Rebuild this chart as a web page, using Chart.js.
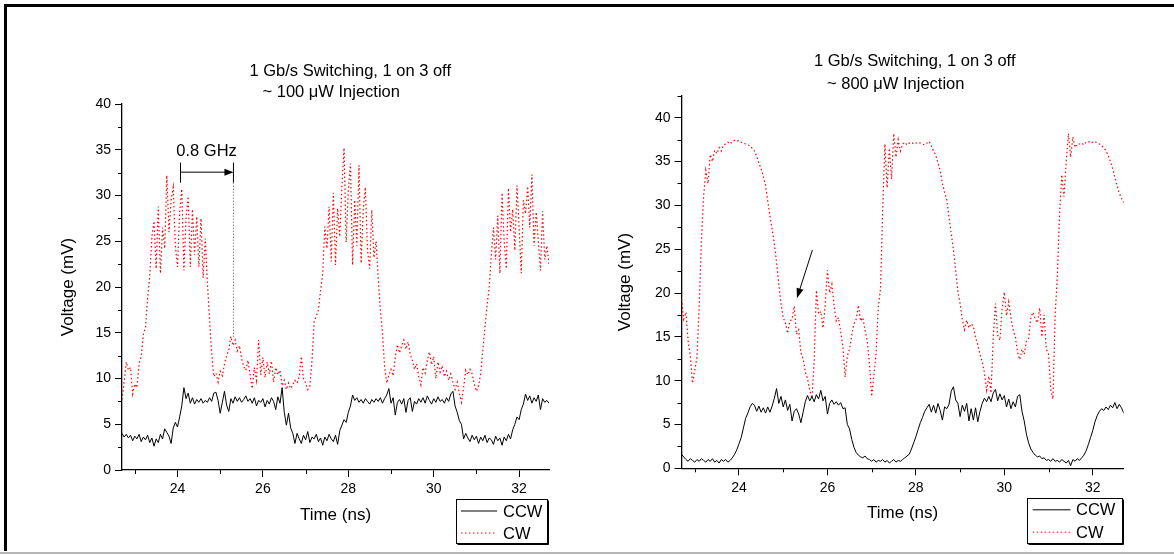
<!DOCTYPE html>
<html>
<head>
<meta charset="utf-8">
<script src="https://cdn.jsdelivr.net/npm/chart.js@4.4.1/dist/chart.umd.min.js"></script>
<style>
html,body{margin:0;padding:0;background:#fff;}
body{width:1174px;height:555px;position:relative;overflow:hidden;}
#wrapA{position:absolute;left:0;top:0;width:585px;height:555px;}
#wrapB{position:absolute;left:585px;top:0;width:589px;height:555px;}
.ftop{position:absolute;left:4px;top:4px;width:1170px;height:3px;background:#000;}
.fleft{position:absolute;left:4px;top:4px;width:3px;height:547px;background:#000;}
.fbot{position:absolute;left:0;top:552px;width:1174px;height:2px;background:#b4b4b4;}
</style>
</head>
<body>
<div id="wrapA"><canvas id="chartA"></canvas></div>
<div id="wrapB"><canvas id="chartB"></canvas></div>
<div class="ftop"></div><div class="fleft"></div><div class="fbot"></div>
<script>
// ---------- data ----------
const time = [
22.7,22.75,22.8,22.85,22.9,22.95,23,23.05,23.1,23.15,
23.2,23.25,23.3,23.35,23.4,23.45,23.5,23.55,23.6,23.65,
23.7,23.75,23.8,23.85,23.9,23.95,24,24.05,24.1,24.15,
24.2,24.25,24.3,24.35,24.4,24.45,24.5,24.55,24.6,24.65,
24.7,24.75,24.8,24.85,24.9,24.95,25,25.05,25.1,25.15,
25.2,25.25,25.3,25.35,25.4,25.45,25.5,25.55,25.6,25.65,
25.7,25.75,25.8,25.85,25.9,25.95,26,26.05,26.1,26.15,
26.2,26.25,26.3,26.35,26.4,26.45,26.5,26.55,26.6,26.65,
26.7,26.75,26.8,26.85,26.9,26.95,27,27.05,27.1,27.15,
27.2,27.25,27.3,27.35,27.4,27.45,27.5,27.55,27.6,27.65,
27.7,27.75,27.8,27.85,27.9,27.95,28,28.05,28.1,28.15,
28.2,28.25,28.3,28.35,28.4,28.45,28.5,28.55,28.6,28.65,
28.7,28.75,28.8,28.85,28.9,28.95,29,29.05,29.1,29.15,
29.2,29.25,29.3,29.35,29.4,29.45,29.5,29.55,29.6,29.65,
29.7,29.75,29.8,29.85,29.9,29.95,30,30.05,30.1,30.15,
30.2,30.25,30.3,30.35,30.4,30.45,30.5,30.55,30.6,30.65,
30.7,30.75,30.8,30.85,30.9,30.95,31,31.05,31.1,31.15,
31.2,31.25,31.3,31.35,31.4,31.45,31.5,31.55,31.6,31.65,
31.7,31.75,31.8,31.85,31.9,31.95,32,32.05,32.1,32.15,
32.2,32.25,32.3,32.35,32.4,32.45,32.5,32.55,32.6,32.65,
32.7];

// left panel (~100 uW injection)
const ccwLow = [
4.0,3.6,3.9,3.5,3.8,3.2,3.7,3.4,3.9,3.1,
3.6,3.3,3.8,3.0,3.5,2.6,3.4,3.0,3.9,3.4,
4.5,4.1,3.7,2.9,4.6,5.2,4.7,5.8,7.0,9.0,
7.8,8.4,7.3,7.9,7.2,7.7,7.4,7.8,7.3,7.6,
7.4,7.9,7.5,8.4,8.5,7.6,6.2,7.4,8.6,7.1,
6.4,7.8,7.3,8.0,7.5,7.9,7.4,7.7,8.1,7.5,
7.8,7.3,7.9,7.0,7.6,7.4,7.8,6.9,7.6,7.2,
7.9,7.5,6.6,8.0,7.3,9.0,6.3,4.9,6.2,4.6,
4.0,2.9,4.0,3.4,2.9,3.8,3.3,4.2,3.0,3.6,
3.4,3.9,3.1,3.5,2.7,3.6,3.2,3.9,3.4,3.1,
3.8,2.8,4.3,4.9,5.5,5.2,6.3,7.0,8.2,7.6,
7.9,7.4,7.7,7.3,7.8,7.5,7.2,7.7,7.4,7.8,
7.5,7.9,7.3,7.8,8.2,8.9,7.3,7.9,6.0,7.4,
7.7,7.2,7.8,6.3,7.6,7.9,6.4,7.5,7.2,7.8,
7.4,7.9,7.3,8.1,7.6,7.2,7.8,7.4,8.0,7.5,
7.7,7.3,7.9,7.5,8.3,8.6,7.0,6.3,5.4,5.0,
3.4,4.0,3.5,3.1,3.8,3.3,3.7,2.9,3.6,3.2,
3.8,3.0,3.5,3.3,2.8,3.7,3.2,3.5,2.7,3.6,
3.2,3.9,3.4,4.4,5.0,5.8,5.5,6.6,7.2,8.3,
7.6,8.1,7.3,7.9,7.5,8.2,6.6,7.8,7.4,7.6,
7.3];
const cwLow = [
7.7,9.6,11.8,10.9,11.2,8.3,9.4,9.0,11.6,12.4,
14.8,15.6,18.8,21.2,25.5,27.2,22.0,28.8,21.5,26.5,
24.2,32.2,26.0,29.5,30.9,24.5,22.2,28.2,30.7,21.8,
27.5,29.9,22.2,28.5,23.5,27.7,22.2,27.5,21.0,25.3,
20.5,16.5,12.8,10.2,10.6,9.6,10.8,10.3,11.6,12.5,
13.1,14.6,13.6,14.2,13.0,13.6,12.2,11.3,10.9,12.0,
10.4,8.9,11.2,9.8,14.2,10.4,12.3,10.1,11.8,10.5,
11.9,9.6,11.2,10.4,10.9,9.2,9.8,8.8,9.5,8.9,
9.3,9.8,9.5,10.2,12.4,10.0,9.5,8.8,9.2,12.0,
16.2,16.8,17.5,19.6,21.5,26.6,24.2,28.8,22.8,30.3,
22.4,28.6,25.5,31.0,35.2,24.9,30.6,33.5,22.4,29.5,
24.5,33.3,22.6,28.5,30.9,24.0,22.0,28.4,23.2,25.0,
21.0,17.5,15.0,11.3,9.5,10.4,11.0,10.3,12.3,13.7,
12.8,13.6,14.2,13.2,14.0,12.6,12.0,11.0,11.6,10.2,
9.3,11.2,10.6,12.0,12.9,11.5,12.4,10.0,11.8,10.7,
11.4,10.2,10.8,9.8,10.5,9.6,8.8,9.6,8.4,7.4,
9.0,10.9,10.4,11.0,10.5,9.4,8.6,9.2,10.5,13.1,
15.6,18.0,20.0,23.5,26.5,23.0,27.8,21.5,30.3,25.0,
22.0,30.8,26.0,28.5,24.0,31.1,26.5,21.5,29.5,28.0,
31.0,26.5,32.3,24.5,28.2,25.0,21.8,28.3,23.0,24.5,
22.5];

// right panel (~800 uW injection)
const ccwHigh = [
1.6,1.3,1.0,0.8,1.1,0.9,0.7,1.0,0.8,1.1,
0.9,0.7,1.0,0.8,1.1,0.7,0.9,0.6,1.0,0.8,
1.0,0.7,0.9,1.2,1.6,2.1,2.8,3.5,4.6,5.7,
6.3,7.0,7.4,7.2,6.5,7.1,6.4,6.9,6.3,7.0,
6.4,7.1,8.0,9.1,7.4,8.2,7.0,7.8,6.6,7.3,
5.4,6.5,6.8,6.2,5.2,6.4,7.6,8.3,7.7,8.2,
7.6,8.4,7.9,8.9,7.7,8.2,6.2,7.4,7.8,7.3,
7.6,7.2,7.5,6.8,6.9,5.0,4.5,3.3,2.4,1.8,
1.5,1.3,1.2,1.4,1.1,1.0,0.8,1.0,0.7,0.9,
0.8,1.0,0.7,0.9,0.6,0.8,1.0,0.7,0.9,0.8,
1.0,1.2,1.4,1.6,2.2,2.9,3.6,4.4,5.2,5.8,
6.5,6.9,7.3,6.4,7.2,6.3,7.4,6.6,5.5,7.0,
6.8,7.3,8.8,9.3,7.8,7.4,5.9,7.2,6.5,7.4,
5.4,6.8,5.5,6.9,5.3,6.5,7.4,8.0,7.6,8.2,
7.6,8.6,9.0,7.7,8.5,7.8,8.3,7.0,7.9,6.8,
7.6,7.0,8.2,8.4,6.5,5.4,3.9,2.9,2.2,1.8,
1.5,1.3,1.4,1.1,1.2,0.9,1.0,0.8,1.1,0.8,
0.9,0.7,1.0,0.8,0.6,0.9,0.3,1.0,0.8,1.1,
0.9,1.2,1.5,2.0,2.7,3.5,4.3,5.3,6.0,6.5,
6.8,6.6,7.0,6.7,7.2,6.9,7.5,6.8,7.3,6.9,
6.3];
const cwHigh = [
19.3,17.0,17.8,14.5,12.8,9.7,11.2,12.7,18.5,26.0,
31.0,34.0,32.5,35.8,35.0,36.3,35.9,36.6,36.2,36.9,
37.0,37.2,37.0,37.3,37.4,37.3,37.4,37.2,37.1,37.0,
36.9,36.8,36.5,36.2,35.6,34.8,34.2,33.3,32.3,30.5,
28.8,27.3,25.6,23.5,21.0,18.8,17.2,16.6,15.4,16.8,
17.0,18.5,15.3,15.8,13.2,12.5,11.0,10.2,8.9,8.0,
12.2,20.3,17.6,17.9,16.0,18.6,22.6,20.0,21.0,18.6,
16.8,17.2,15.6,13.8,10.4,12.8,13.6,15.2,16.5,17.0,
18.6,16.8,17.2,15.8,14.5,12.0,8.2,10.5,13.1,18.4,
20.5,29.5,37.0,32.0,36.5,33.0,38.2,35.5,37.5,36.2,
37.0,37.2,36.9,37.1,37.2,37.0,37.1,37.2,37.1,37.0,
36.9,37.1,37.3,36.8,36.2,35.7,34.8,34.0,32.5,31.5,
30.6,28.6,26.8,24.9,22.6,20.2,18.8,17.0,15.8,16.9,
16.0,16.5,16.2,14.9,14.1,13.0,12.2,10.9,8.9,10.5,
8.6,15.0,18.8,15.2,14.6,18.2,20.1,17.4,19.0,17.2,
15.8,15.0,13.2,12.4,13.6,13.0,14.5,14.8,17.2,17.8,
17.0,16.6,18.3,15.0,17.5,13.6,13.0,9.0,7.9,17.5,
22.0,29.0,33.5,31.0,35.0,38.2,35.5,37.8,36.6,37.0,
37.0,37.1,36.9,37.2,37.3,37.1,37.2,37.3,37.1,37.0,
36.8,36.6,36.2,35.7,35.0,34.2,33.2,32.2,31.4,30.8,
30.3];

const xMajorTicks = [24, 26, 28, 30, 32];
const xMinorTicks = [23, 25, 27, 29, 31];
const yMajorTicks = [0, 5, 10, 15, 20, 25, 30, 35, 40];
const yMinorLow  = [2.5, 7.5, 12.5, 17.5, 22.5, 27.5, 32.5, 37.5];
const yMinorHigh = [2.5, 7.5, 12.5, 17.5, 22.5, 27.5, 32.5, 37.5, 42.5];

const titleLow  = ['1 Gb/s Switching, 1 on 3 off', '~ 100 \u03bcW Injection'];
const titleHigh = ['1 Gb/s Switching, 1 on 3 off', '~ 800 \u03bcW Injection'];
const seriesNames = ['CCW', 'CW'];

// ---------- drawing ----------
const FAM = "'Liberation Sans', Arial, sans-serif";

function makeDecor(cfg) {
  return {
    id: 'decor',
    afterDraw(chart) {
      const ctx = chart.ctx, ca = chart.chartArea;
      const xs = chart.scales.x, ys = chart.scales.y;
      ctx.save();
      // minor ticks
      ctx.strokeStyle = '#000'; ctx.lineWidth = 1;
      ctx.beginPath();
      cfg.xMinor.forEach(v => { const p = Math.round(xs.getPixelForValue(v)) + 0.5; ctx.moveTo(p, ca.bottom); ctx.lineTo(p, ca.bottom + 4); });
      cfg.yMinor.forEach(v => { const p = Math.round(ys.getPixelForValue(v)) + 0.5; ctx.moveTo(ca.left - 4, p); ctx.lineTo(ca.left, p); });
      ctx.stroke();
      // titles
      ctx.fillStyle = '#000';
      ctx.font = '16.5px ' + FAM;
      ctx.textAlign = 'left'; ctx.textBaseline = 'alphabetic';
      cfg.titles.forEach((t, i) => ctx.fillText(t, cfg.titlePos[i][0], cfg.titlePos[i][1]));
      // annotation
      if (cfg.bracket) {
        const b = cfg.bracket;
        const x1 = xs.getPixelForValue(b.t1), x2 = xs.getPixelForValue(b.t2);
        const ym = ys.getPixelForValue(b.vMid), yt = ys.getPixelForValue(b.vTop), yb = ys.getPixelForValue(b.vBot);
        ctx.beginPath();
        ctx.moveTo(x1, yt); ctx.lineTo(x1, yb);
        ctx.moveTo(x2, yt); ctx.lineTo(x2, yb);
        ctx.moveTo(x1, ym); ctx.lineTo(x2 - 6, ym);
        ctx.stroke();
        ctx.beginPath(); ctx.moveTo(x2, ym); ctx.lineTo(x2 - 9, ym - 3.5); ctx.lineTo(x2 - 9, ym + 3.5); ctx.closePath(); ctx.fill();
        ctx.save();
        ctx.strokeStyle = '#555'; ctx.setLineDash([1, 2]);
        ctx.beginPath(); ctx.moveTo(x2, yb); ctx.lineTo(x2, ys.getPixelForValue(b.vDot)); ctx.stroke();
        ctx.restore();
        ctx.textAlign = 'center';
        ctx.fillText(b.label, xs.getPixelForValue(b.labelT), ys.getPixelForValue(b.labelV));
      }
      if (cfg.arrow) {
        const a = cfg.arrow;
        const sx = xs.getPixelForValue(a.t0), sy = ys.getPixelForValue(a.v0);
        const ex = xs.getPixelForValue(a.t1), ey = ys.getPixelForValue(a.v1);
        const ang = Math.atan2(ey - sy, ex - sx);
        const L = 10, W = 3.5;
        ctx.beginPath(); ctx.moveTo(sx, sy); ctx.lineTo(ex - Math.cos(ang) * 6, ey - Math.sin(ang) * 6); ctx.stroke();
        ctx.beginPath();
        ctx.moveTo(ex, ey);
        ctx.lineTo(ex - L * Math.cos(ang) - W * Math.sin(ang), ey - L * Math.sin(ang) + W * Math.cos(ang));
        ctx.lineTo(ex - L * Math.cos(ang) + W * Math.sin(ang), ey - L * Math.sin(ang) - W * Math.cos(ang));
        ctx.closePath(); ctx.fill();
      }
      // legend
      const lg = cfg.legend;
      ctx.setLineDash([]);
      ctx.strokeStyle = '#000'; ctx.lineWidth = 1;
      ctx.strokeRect(lg.x + 0.5, lg.y + 0.5, lg.w, lg.h);
      ctx.beginPath();
      ctx.moveTo(lg.x + 1.5, lg.y + lg.h + 1.5); ctx.lineTo(lg.x + lg.w + 1.5, lg.y + lg.h + 1.5); ctx.lineTo(lg.x + lg.w + 1.5, lg.y + 1.5);
      ctx.stroke();
      ctx.font = '16.5px ' + FAM; ctx.textAlign = 'left'; ctx.fillStyle = '#000';
      chart.data.datasets.forEach((ds, i) => {
        const yy = lg.y + lg.rows[i];
        ctx.save();
        ctx.strokeStyle = ds.borderColor; ctx.lineWidth = 1;
        ctx.setLineDash(ds.borderDash || []);
        ctx.beginPath(); ctx.moveTo(lg.x + lg.lx0, yy + 0.5); ctx.lineTo(lg.x + lg.lx1, yy + 0.5); ctx.stroke();
        ctx.restore();
        ctx.fillText(ds.label, lg.x + lg.tx, yy + 6);
      });
      ctx.restore();
    }
  };
}

function build(canvasId, ccw, cw, yMax, geo, cfg) {
  const datasets = [
    { label: seriesNames[0], data: time.map((t, i) => ({ x: t, y: ccw[i] })), borderColor: '#000000', borderWidth: 1, pointRadius: 0, tension: 0, fill: false },
    { label: seriesNames[1], data: time.map((t, i) => ({ x: t, y: cw[i] })), borderColor: '#ff0000', borderWidth: 1.2, borderDash: [1.5, 2.5], pointRadius: 0, tension: 0, fill: false }
  ];
  const tickFont = { family: FAM, size: 14 };
  const titleFont = { family: FAM, size: 17 };
  return new Chart(document.getElementById(canvasId), {
    type: 'line',
    data: { datasets },
    plugins: [makeDecor(cfg)],
    options: {
      responsive: true, maintainAspectRatio: false, animation: false, events: [],
      layout: { padding: geo.pad },
      plugins: { legend: { display: false }, tooltip: { enabled: false }, title: { display: false } },
      scales: {
        x: {
          type: 'linear', min: 22.7, max: 32.7,
          afterBuildTicks: s => { s.ticks = xMajorTicks.map(v => ({ value: v })); },
          afterFit: s => { s.height = geo.xH; },
          ticks: { font: tickFont, color: '#000', padding: 4, maxRotation: 0, autoSkip: false },
          grid: { display: true, drawOnChartArea: false, drawTicks: true, tickLength: 7, color: '#000', tickColor: '#000', tickWidth: 1 },
          border: { display: true, color: '#000', width: 1.3 },
          title: { display: true, text: 'Time (ns)', font: titleFont, color: '#000', padding: { top: 0, bottom: 0 } }
        },
        y: {
          type: 'linear', min: 0, max: yMax,
          afterBuildTicks: s => { s.ticks = yMajorTicks.map(v => ({ value: v })); },
          afterFit: s => { s.width = geo.yW; },
          ticks: { font: tickFont, color: '#000', padding: 4, autoSkip: false },
          grid: { display: true, drawOnChartArea: false, drawTicks: true, tickLength: 7, color: '#000', tickColor: '#000', tickWidth: 1 },
          border: { display: true, color: '#000', width: 1.3 },
          title: { display: true, text: 'Voltage (mV)', font: titleFont, color: '#000', padding: { top: 0, bottom: 0 } }
        }
      }
    }
  });
}

build('chartA', ccwLow, cwLow, 40,
  { pad: { left: 57.8, right: 36, top: 104, bottom: 29.3 }, yW: 64.2, xH: 55.7 },
  {
    xMinor: xMinorTicks, yMinor: yMinorLow,
    titles: titleLow, titlePos: [[249.5, 76], [262.5, 96.5]],
    bracket: { t1: 24.07, t2: 25.31, vMid: 32.55, vTop: 33.6, vBot: 31.4, vDot: 14.5, label: '0.8 GHz', labelT: 24.68, labelV: 34.3 },
    legend: { x: 456, y: 499, w: 91, h: 44, rows: [11.5, 33.5], lx0: 5, lx1: 41, tx: 47 }
  });

build('chartB', ccwHigh, cwHigh, 42.5,
  { pad: { left: 30.4, right: 50.3, top: 95.8, bottom: 31.3 }, yW: 66.1, xH: 55.4 },
  {
    xMinor: xMinorTicks, yMinor: yMinorHigh,
    titles: titleHigh, titlePos: [[229, 65.5], [242, 88.5]],
    arrow: { t0: 25.66, v0: 24.9, t1: 25.31, v1: 19.4 },
    legend: { x: 442, y: 498, w: 95, h: 45, rows: [11.3, 33.7], lx0: 5.7, lx1: 43.5, tx: 49 }
  });
</script>
</body>
</html>
